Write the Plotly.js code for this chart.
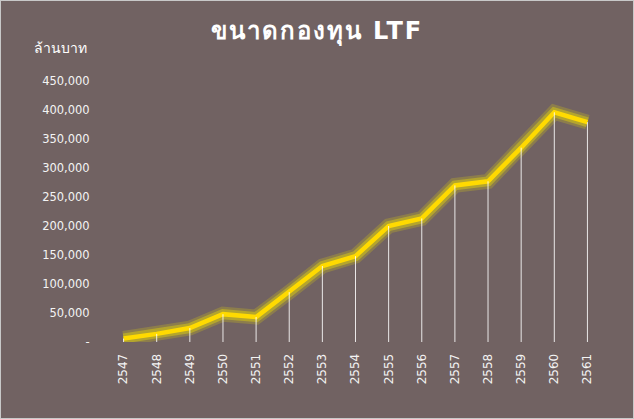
<!DOCTYPE html>
<html>
<head>
<meta charset="utf-8">
<script src="https://cdn.plot.ly/plotly-3.0.1.min.js"></script>
<style>
html,body{margin:0;padding:0;background:#716262;}
#chart{width:632px;height:417px;border:1px solid #c8c8c8;}
#chart .gtitle{letter-spacing:2px;}
</style>
</head>
<body>
<div id="chart"></div>
<script>
var years = ['2547','2548','2549','2550','2551','2552','2553','2554','2555','2556','2557','2558','2559','2560','2561'];
var fundSize = [6000, 14000, 24000, 48000, 43000, 86000, 131000, 148000, 200000, 213000, 270000, 277000, 335000, 396000, 379000];
var yTickVals = [0, 50000, 100000, 150000, 200000, 250000, 300000, 350000, 400000, 450000];
var yTickText = ['-', '50,000', '100,000', '150,000', '200,000', '250,000', '300,000', '350,000', '400,000', '450,000'];
var zeros = fundSize.map(function(){return 0;});

var traces = [
  {x: years, y: fundSize, type: 'scatter', mode: 'lines',
   line: {color: 'rgba(235,225,0,0.22)', width: 15}, hoverinfo: 'skip'},
  {x: years, y: fundSize, type: 'scatter', mode: 'lines',
   line: {color: 'rgba(240,225,0,0.4)', width: 10}, hoverinfo: 'skip'},
  {x: years, y: fundSize, type: 'scatter', mode: 'lines',
   line: {color: '#FFDA00', width: 4.5}},
  {x: years, y: fundSize, type: 'scatter', mode: 'markers',
   marker: {size: 0, opacity: 0},
   error_y: {type: 'data', symmetric: false, array: zeros, arrayminus: fundSize,
             width: 0, thickness: 1, color: 'rgba(255,255,255,0.85)'}}
];

var layout = {
  width: 632, height: 417,
  paper_bgcolor: '#716262', plot_bgcolor: '#716262',
  margin: {l: 106, r: 29, t: 80, b: 76},
  showlegend: false,
  title: {text: '<b>ขนาดกองทุน LTF</b>', x: 0.5, xanchor: 'center', y: 0.93, yanchor: 'middle',
          font: {family: 'DejaVu Sans, sans-serif', size: 24, color: '#ffffff'}},
  xaxis: {type: 'category', range: [-0.5, 14.5], showgrid: false, zeroline: false, showline: false,
          tickangle: -90, ticks: 'outside', ticklen: 6, tickcolor: 'rgba(0,0,0,0)',
          tickfont: {family: 'DejaVu Sans, sans-serif', size: 12, color: '#f4f4f4'}},
  yaxis: {range: [0, 450000], showgrid: false, zeroline: false, showline: false,
          tickvals: yTickVals, ticktext: yTickText, ticks: 'outside', ticklen: 14,
          tickcolor: 'rgba(0,0,0,0)',
          tickfont: {family: 'DejaVu Sans, sans-serif', size: 11.5, color: '#f4f4f4'}},
  annotations: [{text: 'ล้านบาท', xref: 'paper', yref: 'paper', x: -0.036, y: 1.126,
                 xanchor: 'right', yanchor: 'middle', showarrow: false,
                 font: {family: 'DejaVu Sans, sans-serif', size: 14, color: '#ffffff'}}]
};

Plotly.newPlot('chart', traces, layout, {displayModeBar: false, staticPlot: true});
</script>
</body>
</html>
